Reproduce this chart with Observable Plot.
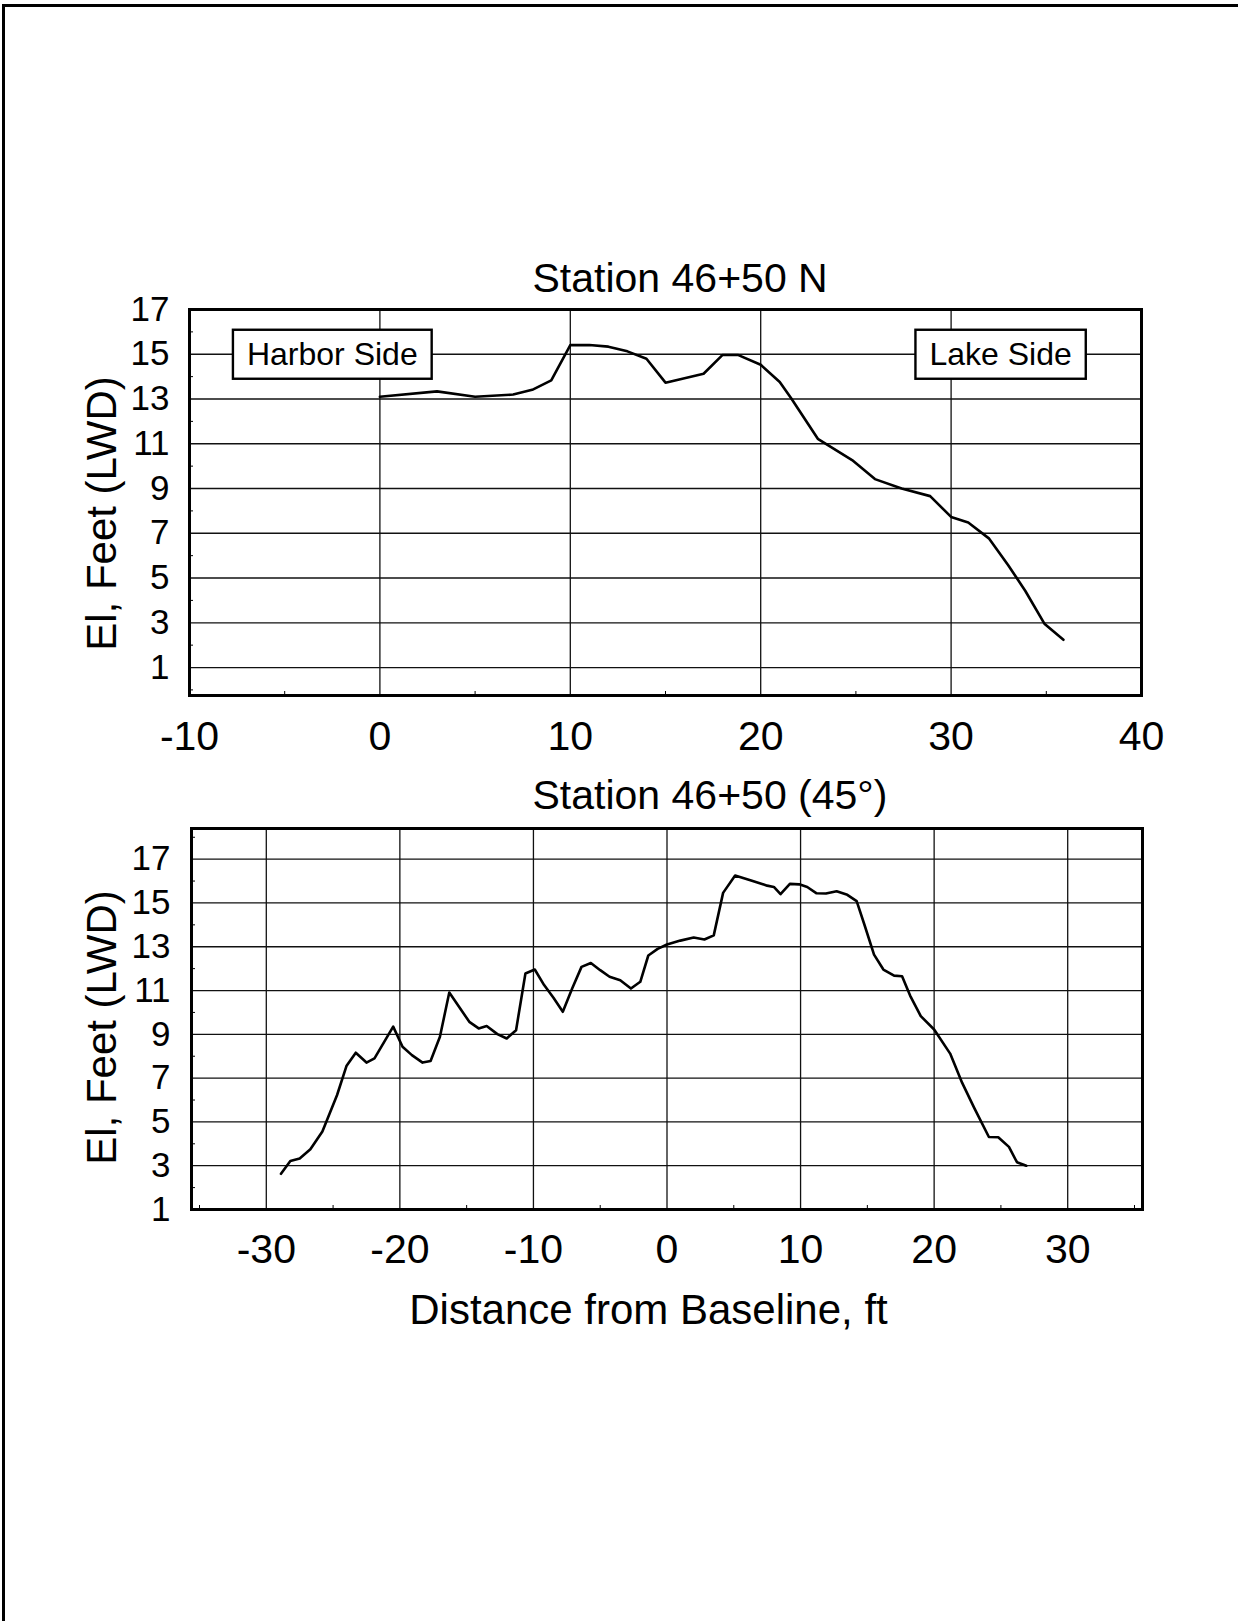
<!DOCTYPE html>
<html><head><meta charset="utf-8">
<script src="https://cdn.jsdelivr.net/npm/d3@7"></script>
<script src="https://cdn.jsdelivr.net/npm/@observablehq/plot@0.6"></script>
<style>
html,body{margin:0;padding:0;background:#fff;}
#page{position:relative;width:1238px;height:1621px;overflow:hidden;background:#fff;}
#border{position:absolute;z-index:5;left:2px;top:4px;right:-10px;bottom:-10px;border-left:3px solid #000;border-top:3px solid #000;background:transparent;pointer-events:none;}
#c1{position:absolute;left:0;top:240px;}
#c2{position:absolute;left:0;top:760px;}
</style></head><body>
<div id="page"><div id="c1"></div><div id="c2"></div><div id="border"></div></div>
<script>
// ---- data ----
const topTitle = "Station 46+50 N";
const botTitle = "Station 46+50 (45°)";
const yLabel = "El, Feet (LWD)";
const xLabel = "Distance from Baseline, ft";

const topX = [0, 3, 5, 7, 8, 9, 10, 11, 12, 13, 14, 15, 17, 18, 18.8, 20, 21, 21.6, 23, 24.8, 26, 27.4, 28.9, 30, 30.9, 32, 33, 33.9, 34.9, 35.9];
const topY = [13.1, 13.34, 13.1, 13.2, 13.41, 13.83, 15.41, 15.41, 15.34, 15.13, 14.8, 13.73, 14.13, 14.97, 14.97, 14.53, 13.76, 13.03, 11.22, 10.27, 9.42, 9.0, 8.66, 7.73, 7.48, 6.76, 5.57, 4.42, 2.96, 2.24];

const botX = [-28.9, -28.2, -27.5, -26.7, -25.8, -24.7, -24.0, -23.3, -22.5, -21.9,
  -20.5, -19.8, -19.1, -18.3, -17.7, -17.0, -16.3, -14.8, -14.1, -13.5,
  -12.7, -12.0, -11.3, -10.6, -9.9, -9.2, -8.5, -7.8, -7.1, -6.4,
  -5.7, -5.0, -4.3, -3.5, -2.7, -2.0, -1.4, -0.7, 0, 1.0,
  2.0, 2.8, 3.5, 4.2, 5.1, 6.3, 7.5, 8.0, 8.5, 9.2,
  9.9, 10.5, 11.2, 11.9, 12.7, 13.5, 14.2, 14.8, 15.5, 16.2,
  17.0, 17.6, 18.2, 19.0, 20.0, 21.2, 22.1, 23.0, 24.1, 24.8,
  25.6, 26.2, 26.9];
const botY = [2.63, 3.22, 3.33, 3.75, 4.56, 6.23, 7.55, 8.16, 7.71, 7.9,
  9.35, 8.43, 8.05, 7.71, 7.78, 8.89, 10.91, 9.57, 9.27, 9.38,
  9.01, 8.81, 9.19, 11.78, 11.96, 11.25, 10.67, 10.03, 11.09, 12.08,
  12.26, 11.93, 11.63, 11.47, 11.09, 11.4, 12.6, 12.9, 13.1, 13.28,
  13.42, 13.33, 13.52, 15.46, 16.25, 16.03, 15.79, 15.73, 15.4, 15.87,
  15.85, 15.73, 15.44, 15.43, 15.53, 15.37, 15.08, 13.97, 12.64, 11.96,
  11.68, 11.65, 10.77, 9.83, 9.22, 8.12, 6.78, 5.64, 4.31, 4.3,
  3.86, 3.16, 3.0];

const yTicks = [1, 3, 5, 7, 9, 11, 13, 15, 17];
const yMinor = [0, 2, 4, 6, 8, 10, 12, 14, 16, 18];
const topXTicks = [-10, 0, 10, 20, 30, 40];
const topXMinor = [-5, 5, 15, 25, 35];
const botXTicks = [-30, -20, -10, 0, 10, 20, 30];
const botXMinor = [-35, -25, -15, -5, 5, 15, 25, 35];

const annotLabels = ["Harbor Side", "Lake Side"];
const annotX = [-2.5, 32.6];
const annotY = [15, 15];

// ---- build ----
const font = "'Liberation Sans', Arial, Helvetica, sans-serif";
const gridStyle = {stroke: "#111", strokeOpacity: 1, strokeWidth: 1.3};
const fmt = d => String(d); // plain hyphen-minus as in the original
const topData = topX.map((x, i) => ({x, y: topY[i]}));
const botData = botX.map((x, i) => ({x, y: botY[i]}));
const annots = annotLabels.map((t, i) => ({t, x: annotX[i], y: annotY[i]}));

const chart1 = Plot.plot({
  width: 1238, height: 520,
  marginTop: 69, marginBottom: 65, marginLeft: 189, marginRight: 97,
  style: {fontFamily: font, background: "transparent", color: "#000", overflow: "visible"},
  x: {domain: [-10, 40]},
  y: {domain: [-0.25, 17]},
  marks: [
    Plot.gridX(topXTicks.filter(d => d > -10 && d < 40), gridStyle),
    Plot.gridY(yTicks.filter(d => d < 17), gridStyle),
    Plot.axisX(topXMinor, {tickSize: -4, tickFormat: () => "", label: null, strokeWidth: 1}),
    Plot.axisY(yMinor.filter(d => d < 17), {tickSize: -4, tickFormat: () => "", label: null, strokeWidth: 1}),
    Plot.axisX(topXTicks, {tickSize: 0, tickPadding: 25, fontSize: 41, label: null, tickFormat: fmt}),
    Plot.axisY(yTicks, {tickSize: 0, tickPadding: 20, fontSize: 35, label: null, tickFormat: fmt}),
    Plot.line(topData, {x: "x", y: "y", stroke: "#000", strokeWidth: 2.6}),
    Plot.frame({stroke: "#000", strokeWidth: 3}),
    Plot.text(annots, {x: "x", y: "y", text: "t", fontSize: 32, fill: "#000", className: "annot"}),
    Plot.text([topTitle], {frameAnchor: "top-left", dx: 343, dy: -18, textAnchor: "start", lineAnchor: "bottom", fontSize: 41, fill: "#000"}),
    Plot.text([yLabel], {frameAnchor: "left", dx: -87, dy: 11, rotate: -90, textAnchor: "middle", lineAnchor: "middle", fontSize: 42, fill: "#000"})
  ]
});
document.getElementById("c1").append(chart1);

const chart2 = Plot.plot({
  width: 1238, height: 600,
  marginTop: 68, marginBottom: 151, marginLeft: 191, marginRight: 96,
  style: {fontFamily: font, background: "transparent", color: "#000", overflow: "visible"},
  x: {domain: [-35.6, 35.6]},
  y: {domain: [1, 18.4]},
  marks: [
    Plot.gridX(botXTicks, gridStyle),
    Plot.gridY(yTicks.filter(d => d > 1), gridStyle),
    Plot.axisX(botXMinor.filter(d => d > -35.6 && d < 35.6), {tickSize: -4, tickFormat: () => "", label: null, strokeWidth: 1}),
    Plot.axisY(yMinor.filter(d => d > 1), {tickSize: -4, tickFormat: () => "", label: null, strokeWidth: 1}),
    Plot.axisX(botXTicks, {tickSize: 0, tickPadding: 24, fontSize: 41, label: null, tickFormat: fmt}),
    Plot.axisY(yTicks, {tickSize: 0, tickPadding: 21, fontSize: 35, label: null, tickFormat: fmt}),
    Plot.line(botData, {x: "x", y: "y", stroke: "#000", strokeWidth: 2.6}),
    Plot.frame({stroke: "#000", strokeWidth: 3}),
    Plot.text([botTitle], {frameAnchor: "top-left", dx: 341, dy: -20, textAnchor: "start", lineAnchor: "bottom", fontSize: 41, fill: "#000"}),
    Plot.text([yLabel], {frameAnchor: "left", dx: -89, dy: 8.5, rotate: -90, textAnchor: "middle", lineAnchor: "middle", fontSize: 42, fill: "#000"}),
    Plot.text([xLabel], {frameAnchor: "bottom", dx: -18.5, dy: 114, textAnchor: "middle", lineAnchor: "bottom", fontSize: 42, fill: "#000"})
  ]
});
document.getElementById("c2").append(chart2);

// white boxes with outline behind the annotation labels
const ns = "http://www.w3.org/2000/svg";
chart1.querySelectorAll("g.annot text").forEach(t => {
  const b = t.getBBox();
  const r = document.createElementNS(ns, "rect");
  r.setAttribute("x", b.x - 14);
  r.setAttribute("y", -24.5);
  r.setAttribute("width", b.width + 28);
  r.setAttribute("height", 49);
  r.setAttribute("fill", "#fff");
  r.setAttribute("stroke", "#000");
  r.setAttribute("stroke-width", 2.4);
  const tr = t.getAttribute("transform");
  if (tr) r.setAttribute("transform", tr);
  t.parentNode.insertBefore(r, t);
});
</script>
</body></html>
